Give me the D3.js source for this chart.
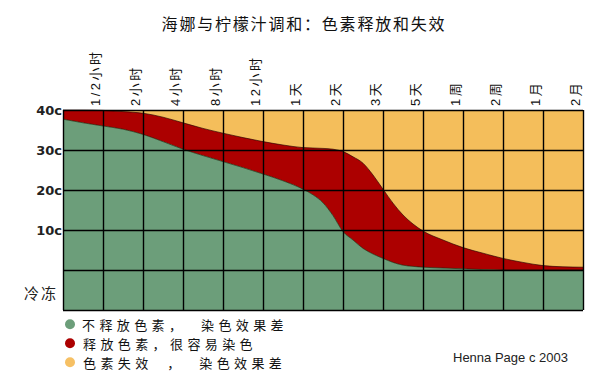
<!DOCTYPE html>
<html><head><meta charset="utf-8">
<script src="https://cdn.jsdelivr.net/npm/d3@7"></script>
<style>body{margin:0;background:#fff}</style>
</head><body>
<svg id="c" width="612" height="380"></svg>
<script>
// ---- data ----
const titleText = "海娜与柠檬汁调和：色素释放和失效";
const timeLabels = ["1/2小时","2小时","4小时","8小时","12小时","1天","2天","3天","5天","1周","2周","1月","2月"];
const tempTicks = [40, 30, 20, 10];
const frozenLabel = "冷冻";
// sample positions along the time axis (0 = start, 1 = first label column line ...)
const positions =    [0, 0.5, 1, 1.5, 2, 2.5, 3, 3.5, 4, 4.5, 5, 5.5, 6, 6.25, 6.5, 6.75, 7, 7.25, 7.5, 7.75, 8, 8.25, 8.5, 8.75, 9, 9.5, 10, 10.5, 11, 11.5, 12, 12.5, 13];
// upper edge of "no dye release" zone (temperature, °C)
const noReleaseTop = [37.7, 36.8, 36.0, 35.2, 33.9, 32.1, 30.2, 28.6, 27.1, 25.6, 24.0, 22.3, 20.2, 18.8, 16.8, 13.6, 9.6, 7.5, 5.4, 4.0, 2.9, 1.9, 1.2, 0.9, 0.7, 0.5, 0.3, 0.1, 0, 0, 0, 0, 0];
// upper edge of "dye released" zone (above: dye exhausted)
const releaseTop =   [40, 40, 39.9, 39.6, 39.2, 38.2, 36.8, 35.4, 34.2, 33.1, 32.1, 31.25, 30.6, 30.5, 30.4, 30.2, 29.6, 28.3, 26.7, 23.75, 20.2, 16.7, 13.75, 11.5, 9.75, 7.5, 5.6, 4.2, 2.9, 1.9, 1.1, 0.8, 0.7];
const legendLabels = ["不释放色素，  染色效果差", "释放色素，很容易染色", "色素失效  ，  染色效果差"];
const creditText = "Henna Page c 2003";

// ---- styles ----
const colors = {green: "#6c9e7a", red: "#ac0000", yellow: "#f4be5b"};
const legendColors = [colors.green, colors.red, "#f6c064"];
const cjk = "'Noto Sans CJK SC', sans-serif";

const svg = d3.select("#c");
const L = 63, R = 583, T = 110, B = 310;
const x = d3.scaleLinear().domain([0, 13]).range([L, R]);
const y = d3.scaleLinear().domain([-10, 40]).range([B, T]);

// title
svg.append("text").attr("x", 304).attr("y", 30).attr("text-anchor", "middle")
  .style("font-family", cjk).style("font-size", "16px").style("letter-spacing", "1.8px")
  .attr("fill", "#111").text(titleText);

const plot = svg.append("g");
plot.append("rect").attr("x", L).attr("y", T).attr("width", R - L).attr("height", B - T).attr("fill", colors.yellow);

const pts = positions.map((p, i) => ({p, g: noReleaseTop[i], r: releaseTop[i]}));
const curve = d3.curveMonotoneX;
plot.append("path").datum(pts).attr("fill", colors.red)
  .attr("d", d3.area().curve(curve).x(d => x(d.p)).y0(d => y(d.g)).y1(d => y(d.r)));
plot.append("path").datum(pts).attr("fill", colors.green)
  .attr("d", d3.area().curve(curve).x(d => x(d.p)).y0(y(-10)).y1(d => y(d.g)));
plot.append("path").datum(pts).attr("fill", "none").attr("stroke", "#200").attr("stroke-width", 0.9).attr("stroke-opacity", 0.7)
  .attr("d", d3.line().curve(curve).x(d => x(d.p)).y(d => y(d.r)));
plot.append("path").datum(pts).attr("fill", "none").attr("stroke", "#102010").attr("stroke-width", 0.9).attr("stroke-opacity", 0.7)
  .attr("d", d3.line().curve(curve).x(d => x(d.p)).y(d => y(d.g)));

// grid via axes
const gx = svg.append("g").attr("transform", `translate(0,${B})`)
  .call(d3.axisBottom(x).tickValues(d3.range(0, 14)).tickSize(-(B - T)).tickFormat(""));
gx.select(".domain").remove();
gx.selectAll("line").attr("stroke", "#000").attr("stroke-width", 1.4);
const gy = svg.append("g").attr("transform", `translate(${L},0)`)
  .call(d3.axisLeft(y).tickValues([40, 30, 20, 10, 0, -10]).tickSize(-(R - L)).tickFormat(""));
gy.select(".domain").remove();
gy.selectAll("line").attr("stroke", "#000").attr("stroke-width", 1.4);

// y labels
const yl = svg.append("g").attr("transform", `translate(${L},0)`)
  .call(d3.axisLeft(y).tickValues(tempTicks).tickSize(0).tickPadding(1).tickFormat(d => d + "c"));
yl.select(".domain").remove();
yl.selectAll("text").style("font-family", "'DejaVu Sans', sans-serif").style("font-size", "13px")
  .style("font-weight", "bold").attr("fill", "#222");
svg.append("text").attr("x", 58).attr("y", y(-5) + 2).attr("text-anchor", "end").attr("dominant-baseline", "central")
  .style("font-family", cjk).style("font-size", "15px").style("letter-spacing", "2px").attr("fill", "#222").text(frozenLabel);

// x labels (rotated)
const xl = svg.append("g").attr("transform", `translate(0,${T})`)
  .call(d3.axisTop(x).tickValues(d3.range(1, 14)).tickSize(0).tickFormat(d => timeLabels[d - 1]));
xl.select(".domain").remove();
xl.selectAll("text").attr("transform", "rotate(-90)").attr("x", 4).attr("y", -8).attr("dy", null)
  .attr("text-anchor", "start").attr("dominant-baseline", "central")
  .style("font-family", "'Liberation Sans', " + cjk).style("font-size", "13px").style("letter-spacing", "2.5px").attr("fill", "#111");

// legend
const lg = svg.append("g");
legendLabels.forEach((t, i) => {
  const cy = 324.3 + i * 19;
  lg.append("circle").attr("cx", 70).attr("cy", cy).attr("r", 5).attr("fill", legendColors[i]);
  lg.append("text").attr("x", i === 0 ? 82 : 83).attr("y", cy).attr("dominant-baseline", "central")
    .style("font-family", cjk).style("font-size", "13px").style("letter-spacing", "4.4px").style("white-space", "pre")
    .attr("fill", "#111").text(t);
});
svg.append("text").attr("x", 453).attr("y", 362).style("font-family", "'Liberation Sans', sans-serif")
  .style("font-size", "13px").attr("fill", "#222").text(creditText);
</script>
</body></html>
